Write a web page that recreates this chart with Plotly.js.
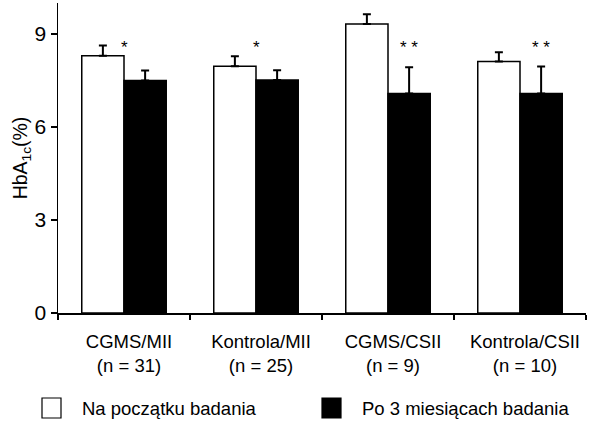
<!DOCTYPE html>
<html>
<head>
<meta charset="utf-8">
<script src="https://cdn.plot.ly/plotly-3.0.1.min.js"></script>
<style>html,body{margin:0;padding:0;background:#fff}#chart{width:590px;height:422px}</style>
</head>
<body>
<div id="chart"></div>
<script>
const categories = ["CGMS/MII<br>(n = 31)", "Kontrola/MII<br>(n = 25)", "CGMS/CSII<br>(n = 9)", "Kontrola/CSII<br>(n = 10)"];
const seriesNames = ["Na początku badania", "Po 3 miesiącach badania"];
const baseline = [8.30, 7.96, 9.32, 8.11];
const baselineErr = [0.33, 0.32, 0.32, 0.30];
const after3m = [7.50, 7.52, 7.08, 7.08];
const after3mErr = [0.32, 0.31, 0.85, 0.87];
const significance = ["*", "*", "* *", "* *"];
const starLevel = [8.57, 8.57, 8.57, 8.57];
const yTicks = [0, 3, 6, 9];

const FONT = "Liberation Sans, Arial, Helvetica, sans-serif";
const W = 590, H = 422;
const M = {l: 58, r: 4, t: 3, b: 109};
const px2x = p => (p - M.l) / (W - M.l - M.r);
const px2y = p => (H - M.b - p) / (H - M.t - M.b);

const traces = [
  {
    type: "bar", name: seriesNames[0], x: categories, y: baseline,
    marker: {color: "#ffffff", line: {color: "#000000", width: 1.5}},
    error_y: {type: "data", symmetric: false, array: baselineErr, arrayminus: baselineErr.map(() => 0), color: "#000", thickness: 2, width: 4}
  },
  {
    type: "bar", name: seriesNames[1], x: categories, y: after3m,
    marker: {color: "#000000", line: {color: "#000000", width: 1.5}},
    error_y: {type: "data", symmetric: false, array: after3mErr, arrayminus: after3mErr.map(() => 0), color: "#000", thickness: 2, width: 4}
  }
];

// single stars sit between the two bars, double stars above the dark bar
const starShift = [0, 0, 21, 21];
const annotations = categories.map((c, i) => ({
  x: c, y: starLevel[i], xref: "x", yref: "y", text: significance[i], showarrow: false,
  xshift: starShift[i],
  font: {family: FONT, size: 17, color: "#000"}, yanchor: "middle"
}));

// legend drawn as boxes + labels below the plot
const legendFill = ["#ffffff", "#000000"];
const legendBoxLeft = [42, 322];
const shapes = seriesNames.map((n, i) => ({
  type: "rect", xref: "paper", yref: "paper",
  x0: px2x(legendBoxLeft[i]), x1: px2x(legendBoxLeft[i] + 19),
  y0: px2y(418), y1: px2y(398),
  fillcolor: legendFill[i], line: {color: "#000", width: 1.2}
}));
seriesNames.forEach((n, i) => annotations.push({
  xref: "paper", yref: "paper", x: px2x(legendBoxLeft[i] + 38), y: px2y(408),
  xanchor: "left", yanchor: "middle", text: n, showarrow: false,
  font: {family: FONT, size: 18.5, color: "#000"}
}));

const layout = {
  width: W, height: H,
  margin: M,
  paper_bgcolor: "#fff", plot_bgcolor: "#fff",
  font: {family: FONT, color: "#000"},
  barmode: "group", bargap: 0.36, bargroupgap: 0,
  showlegend: false,
  xaxis: {
    type: "category", range: [-0.5, 3.5], showline: true, linecolor: "#000", linewidth: 1.5,
    ticks: "outside", tickson: "boundaries", ticklen: 5, tickwidth: 1.5, tickcolor: "#000",
    ticklabelstandoff: 11, ticklabelshift: 5,
    tickfont: {family: FONT, size: 18.5, color: "#000"}, showgrid: false, zeroline: false, automargin: false
  },
  yaxis: {
    range: [0, 10], tickvals: yTicks, ticktext: yTicks.map(String),
    showline: true, linecolor: "#000", linewidth: 1.5,
    ticks: "outside", ticklen: 6, tickwidth: 1.5, tickcolor: "#000",
    tickfont: {family: FONT, size: 21, color: "#000"}, showgrid: false, zeroline: false, automargin: false,
    title: {text: "HbA<sub>1c</sub>(%)", font: {family: FONT, size: 19.5, color: "#000"}, standoff: 2}
  },
  annotations: annotations,
  shapes: shapes
};

Plotly.newPlot("chart", traces, layout, {displayModeBar: false, staticPlot: true});
</script>
</body>
</html>
